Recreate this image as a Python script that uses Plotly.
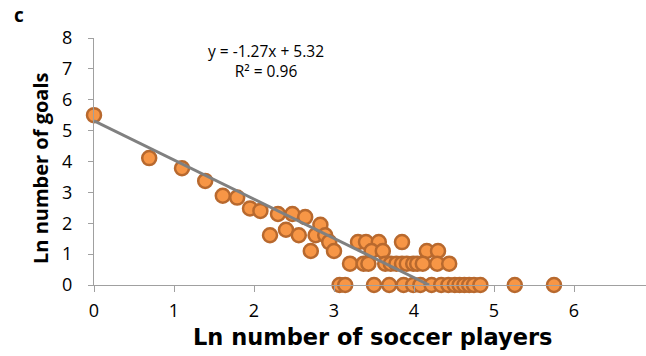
import plotly.graph_objects as go

# Data: ln(number of soccer players) vs ln(number of goals)
x_vals = [0.00, 0.69, 1.10, 1.39, 1.61, 1.79, 1.95, 2.08, 2.20, 2.30, 2.40, 2.48,
          2.56, 2.64, 2.71, 2.77, 2.83, 2.89, 2.94, 3.00, 3.30, 3.40, 3.56, 3.47,
          3.61, 3.85, 4.16, 4.30,
          3.20, 3.37, 3.43, 3.64, 3.71, 3.78, 3.85, 3.91, 3.99, 4.04, 4.11, 4.29, 4.44,
          3.07, 3.14, 3.50, 3.69, 3.87, 3.99, 4.08, 4.22, 4.34, 4.43, 4.51, 4.57,
          4.63, 4.69, 4.75, 4.83, 5.26, 5.75]
y_vals = [5.50, 4.11, 3.78, 3.37, 2.89, 2.83, 2.48, 2.40, 1.61, 2.30, 1.79, 2.30,
          1.61, 2.20, 1.10, 1.61, 1.95, 1.61, 1.39, 1.10, 1.39, 1.39, 1.39, 1.10,
          1.10, 1.39, 1.10, 1.10,
          0.69, 0.69, 0.69, 0.69, 0.69, 0.69, 0.69, 0.69, 0.69, 0.69, 0.69, 0.69, 0.69,
          0, 0, 0, 0, 0, 0, 0, 0, 0, 0, 0, 0,
          0, 0, 0, 0, 0, 0]

slope = -1.27
intercept = 5.32
x_ticks = [0, 1, 2, 3, 4, 5, 6]
y_ticks = [0, 1, 2, 3, 4, 5, 6, 7, 8]

line_x = [0, -intercept / slope]
line_y = [intercept + slope * v for v in line_x]

W, H = 646, 356
L, R, T, B = 94, 0, 38, 71
PW, PH = W - L - R, H - T - B


def px_x(p):
    return (p - L) / PW


def px_y(p):
    return (H - B - p) / PH


fig = go.Figure()
fig.add_trace(go.Scatter(
    x=x_vals, y=y_vals, mode="markers", cliponaxis=False,
    marker=dict(size=14, color="#F79646", line=dict(color="#B8692E", width=2.5)),
    showlegend=False))
fig.add_trace(go.Scatter(
    x=line_x, y=line_y, mode="lines", cliponaxis=False,
    line=dict(color="#808080", width=3), showlegend=False))

OS = "Open Sans, Liberation Sans, sans-serif"
tick_font = dict(family=OS, size=18, color="#000000")

fig.update_layout(
    width=W, height=H,
    margin=dict(l=L, r=R, t=T, b=B),
    paper_bgcolor="white", plot_bgcolor="white",
    font=tick_font,
    xaxis=dict(range=[0, 6.9], tickvals=x_ticks, showgrid=False, zeroline=False,
               showline=True, linecolor="#A0A0A0", linewidth=1,
               ticks="outside", ticklen=6, tickcolor="#A0A0A0",
               tickfont=tick_font, ticklabelstandoff=3),
    yaxis=dict(range=[0, 8], tickvals=y_ticks, showgrid=False, zeroline=False,
               showline=True, linecolor="#A0A0A0", linewidth=1,
               ticks="outside", ticklen=5, tickcolor="#A0A0A0",
               tickfont=tick_font, ticklabelstandoff=12),
    annotations=[
        dict(text="<b>c</b>", xref="paper", yref="paper", x=px_x(12), y=px_y(15),
             xanchor="left", yanchor="middle", showarrow=False,
             font=dict(family=OS, size=19)),
        dict(text="<b>Ln number of soccer players</b>", xref="paper", yref="paper",
             x=px_x(372), y=px_y(337), xanchor="center", yanchor="middle",
             showarrow=False, font=dict(family="DejaVu Sans, sans-serif", size=22.5)),
        dict(text="<b>Ln number of goals</b>", xref="paper", yref="paper",
             x=px_x(40), y=px_y(168), xanchor="center", yanchor="middle",
             textangle=-90, showarrow=False, font=dict(family=OS, size=20)),
        dict(text="y = -1.27x + 5.32<br>R² = 0.96", xref="paper", yref="paper",
             x=px_x(266), y=px_y(61), xanchor="center", yanchor="middle",
             showarrow=False, align="center",
             font=dict(family=OS, size=15.5)),
    ],
)

fig.write_html("out.html")
